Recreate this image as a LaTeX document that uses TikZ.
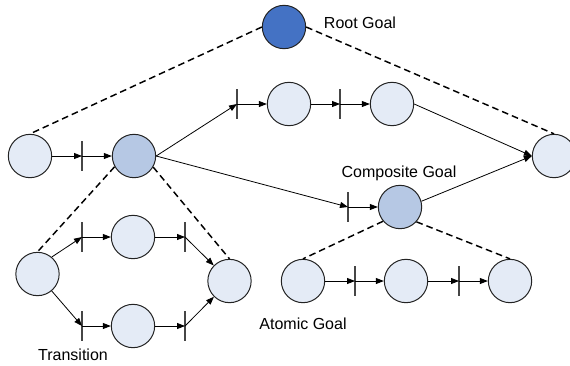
\documentclass[tikz,border=0pt]{standalone}
\usepackage{fontspec}
\setmainfont{Liberation Sans}
\usetikzlibrary{arrows.meta}
\definecolor{rootblue}{RGB}{68,114,196}
\definecolor{compblue}{RGB}{182,200,228}
\definecolor{atomblue}{RGB}{228,235,246}
\definecolor{edgecol}{RGB}{35,35,35}
\definecolor{barcol}{RGB}{70,70,70}
\begin{document}
\begin{tikzpicture}[x=0.75pt,y=-0.75pt,
  goal/.style={circle,draw=edgecol,line width=0.75pt,minimum size=32.5pt,inner sep=0pt},
  atomic/.style={goal,fill=atomblue},
  composite/.style={goal,fill=compblue},
  rootgoal/.style={goal,fill=rootblue},
  arr/.style={-{Triangle[length=6pt,width=4.5pt]},line width=0.6pt,draw=black},
  decomp/.style={dash pattern=on 5pt off 3pt,line width=1.1pt,draw=black},
  tbar/.style={draw=barcol,line width=1pt},
  lbl/.style={font=\fontsize{12}{14}\selectfont,inner sep=0pt}]
\useasboundingbox (0,0) rectangle (570,365);

% goals
\node[rootgoal] (root) at (284,27) {};
\node[atomic] (A) at (30,156) {};
\node[composite] (B) at (134,156) {};
\node[atomic] (C1) at (289,104) {};
\node[atomic] (C2) at (392,104) {};
\node[atomic] (R) at (554,156) {};
\node[composite] (G) at (400,207) {};
\node[atomic] (D1) at (303,281) {};
\node[atomic] (D2) at (406,281) {};
\node[atomic] (D3) at (510,281) {};
\node[atomic] (E) at (37.5,274) {};
\node[atomic] (F1) at (133,237) {};
\node[atomic] (F2) at (133,326) {};
\node[atomic] (H) at (229.5,281) {};

% transitions
\coordinate (tAB) at (82,156);
\coordinate (tC1) at (237,104);
\coordinate (tC2) at (340,104);
\coordinate (tG) at (348,207);
\coordinate (tD2) at (355,281);
\coordinate (tD3) at (459,281);
\coordinate (tF1) at (82,237);
\coordinate (tF1b) at (185,237);
\coordinate (tF2) at (82,326);
\coordinate (tF2b) at (185,326);
\foreach \t in {tAB,tC1,tC2,tG,tD2,tD3,tF1,tF1b,tF2,tF2b}
  \draw[tbar] (\t) ++(0,-15) -- ++(0,30);

% decomposition links
\draw[decomp] (root.west) -- (A.north);
\draw[decomp] (root.east) -- (R.north);
\draw[decomp] (B.209) -- (E.north);
\draw[decomp] (B.330) -- (H.north);
\draw[decomp] (G.220) -- (D1.north);
\draw[decomp] (G.318) -- (D3.north);

% flows
\draw[arr] (A) -- (tAB);
\draw[arr] (tAB) -- (B);
\draw[arr] (B.east) -- (tC1);
\draw[arr] (tC1) -- (C1);
\draw[arr] (C1) -- (tC2);
\draw[arr] (tC2) -- (C2);
\draw[arr] (C2.east) -- (R.west);
\draw[arr] (B.east) -- (tG);
\draw[arr] (tG) -- (G);
\draw[arr] (G.15) -- (R.west);
\draw[arr] (D1) -- (tD2);
\draw[arr] (tD2) -- (D2);
\draw[arr] (D2) -- (tD3);
\draw[arr] (tD3) -- (D3);
\draw[arr] (E.50) -- (tF1);
\draw[arr] (tF1) -- (F1);
\draw[arr] (F1) -- (tF1b);
\draw[arr] (tF1b) -- (H);
\draw[arr] (E.-50) -- (tF2);
\draw[arr] (tF2) -- (F2);
\draw[arr] (F2) -- (tF2b);
\draw[arr] (tF2b) -- (H);

% labels
\node[lbl] (rootlbl) at (360,23) {Root Goal};
\node[lbl] (complbl) at (399,173) {Composite Goal};
\node[lbl] (atomlbl) at (303,324) {Atomic Goal};
\node[lbl] (translbl) at (73,355) {Transition};
\end{tikzpicture}
\end{document}
